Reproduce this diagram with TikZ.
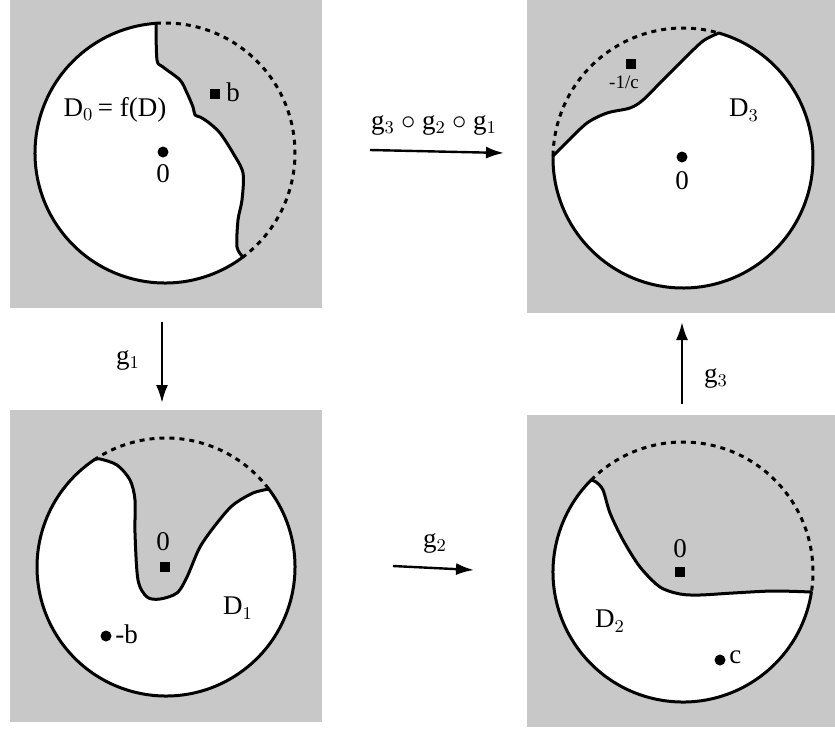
\documentclass[tikz,border=0pt]{standalone}
\usepackage{fontspec}
\setmainfont{Liberation Serif}
\usetikzlibrary{arrows.meta}
\definecolor{panelgray}{RGB}{200,200,200}
\begin{document}
\begin{tikzpicture}[x=0.5pt,y=-0.5pt,
  panel/.style={fill=panelgray,draw=none},
  bnd/.style={line width=1.5pt,fill=white,line join=round},
  dsh/.style={line width=1.5pt,dash pattern=on 2.5pt off 2.5pt},
  dotpt/.style={circle,fill=black,inner sep=0pt,minimum size=5.5pt},
  sqpt/.style={rectangle,fill=black,inner sep=0pt,minimum size=5pt},
  lbl/.style={font=\fontsize{13.5}{15}\selectfont,inner sep=1pt},
  slbl/.style={font=\fontsize{9.5}{10}\selectfont,inner sep=1pt},
  arr/.style={line width=1.2pt,-{Latex[length=9pt,width=6pt]}}]
\useasboundingbox (0,0) rectangle (835,729);
% panels
\fill[panel] (10,0) rectangle (322,308);
\fill[panel] (527,0) rectangle (835,313);
\fill[panel] (10,410) rectangle (322,722);
\fill[panel] (527,415) rectangle (835,727);
% ---------- panel 1 : D0
\draw[bnd] (165,153) ++(53:130) arc[start angle=53,end angle=266,radius=130]
  -- plot[smooth,tension=0.5] coordinates {(156,23) (157,60) (163,67) (180,80) (187,93) (193,107) (195,115) (200,117) (208,122) (220,133) (233,153) (243,173) (242,200) (238,220) (237,247) (243,257)} -- cycle;
\draw[dsh] (165,153) ++(-94:130) arc[start angle=-94,end angle=53,radius=130];
\node[dotpt] (z0) at (163,152) {};
\node[lbl] (z0l) at (163,174) {0};
\node[sqpt] (b) at (215,94) {};
\node[lbl,anchor=west] (bl) at (224,92) {b};
\node[lbl] (d0) at (115,110) {$\mathrm{D}_0$\,= f(D)};
% ---------- panel 2 : D3
\draw[bnd] (683,158) ++(181:130) arc[start angle=181,end angle=-74,radius=130]
  -- plot[smooth,tension=0.5] coordinates {(719,33) (703,41) (683,60) (660,83) (643,100) (630,108) (607,113) (587,123) (567,142) (553,156)} -- cycle;
\draw[dsh] (683,158) ++(181:130) arc[start angle=181,end angle=286,radius=130];
\node[dotpt] (z3) at (682,157) {};
\node[lbl] (z3l) at (682,181) {0};
\node[sqpt] (c3) at (631,64) {};
\node[slbl] (c3l) at (624,82) {-1/c};
\node[lbl] (d3) at (744,110) {$\mathrm{D}_3$};
% ---------- panel 3 : D1
\draw[bnd] (166,567) ++(-37:129) arc[start angle=-37,end angle=236,radius=129]
  -- plot[smooth,tension=0.5] coordinates {(94,460) (100,459) (117,465) (130,480) (135,500) (135,533) (138,580) (147,597) (160,599) (177,593) (187,577) (200,547) (217,523) (233,505) (253,493) (269,489)} -- cycle;
\draw[dsh] (166,567) ++(236:129) arc[start angle=236,end angle=323,radius=129];
\node[sqpt] (z1) at (165,567) {};
\node[lbl] (z1l) at (163,542) {0};
\node[dotpt] (mb) at (106,636) {};
\node[lbl,anchor=west] (mbl) at (113,634) {-b};
\node[lbl] (d1) at (238,608) {$\mathrm{D}_1$};
% ---------- panel 4 : D2
\draw[bnd] (683,572) ++(9:130) arc[start angle=9,end angle=225,radius=130]
  -- plot[smooth,tension=0.5] coordinates {(591,480) (596,482) (603,490) (610,513) (623,540) (640,567) (660,587) (680,594) (700,595) (733,593) (773,591) (811,592)} -- cycle;
\draw[dsh] (683,572) ++(225:130) arc[start angle=225,end angle=369,radius=130];
\node[sqpt] (z2) at (680,572) {};
\node[lbl] (z2l) at (680,549) {0};
\node[dotpt] (cc) at (720,660) {};
\node[lbl,anchor=west] (ccl) at (727,657) {c};
\node[lbl] (d2) at (610,621) {$\mathrm{D}_2$};
% ---------- arrows
\coordinate (a1s) at (370,150); \coordinate (a1e) at (504,153);
\draw[arr] (a1s) -- (a1e);
\node[lbl] (a1l) at (434,125) {$\mathrm{g}_3\circ\mathrm{g}_2\circ\mathrm{g}_1$};
\coordinate (g1s) at (162,322); \coordinate (g1e) at (162,403);
\draw[arr] (g1s) -- (g1e);
\node[lbl] (g1l) at (128,360) {$\mathrm{g}_1$};
\coordinate (g3s) at (682,404); \coordinate (g3e) at (682,322);
\draw[arr] (g3s) -- (g3e);
\node[lbl] (g3l) at (716,378) {$\mathrm{g}_3$};
\coordinate (g2s) at (393,566); \coordinate (g2e) at (474,570);
\draw[arr] (g2s) -- (g2e);
\node[lbl] (g2l) at (435,543) {$\mathrm{g}_2$};
\end{tikzpicture}
\end{document}
